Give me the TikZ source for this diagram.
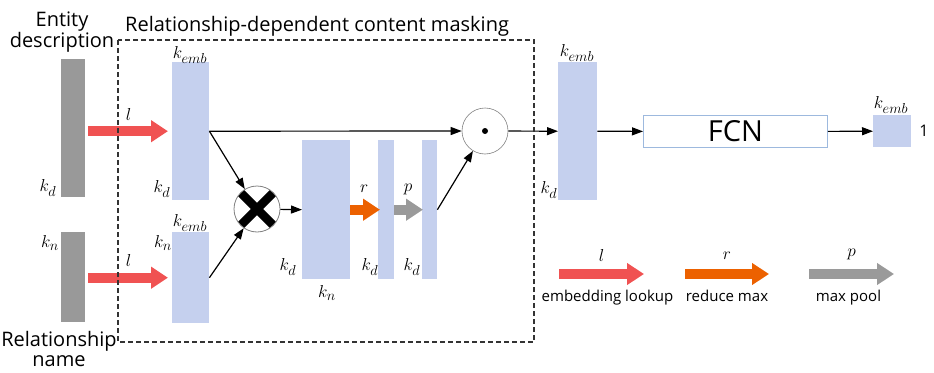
\documentclass[tikz,border=0pt]{standalone}
\usepackage{fontspec}
\setmainfont{Open Sans}
\usetikzlibrary{arrows.meta,positioning,calc}
\definecolor{barblue}{HTML}{C5D0EE}
\definecolor{bargray}{HTML}{999999}
\definecolor{lookred}{HTML}{F05252}
\definecolor{maxorange}{HTML}{EC6100}
\definecolor{poolgray}{HTML}{9A9A9A}
\definecolor{fcnline}{HTML}{9DB9DE}
\definecolor{boxline}{HTML}{333333}

\begin{document}
\begin{tikzpicture}[
x=1pt, y=-1pt,
bar/.style={
  rectangle,
  inner sep=0pt,
  anchor=north west,
  fill=barblue
  },
inbar/.style={
  bar,
  fill=bargray
  },
lab/.style={
  inner sep=1pt,
  font=\fontsize{19}{19}\selectfont
  },
captext/.style={
  inner sep=0pt,
  align=center,
  font=\fontsize{20}{20.5}\selectfont
  },
leg/.style={
  inner sep=0pt,
  font=\fontsize{15}{15}\selectfont
  },
fat/.style={
  line width=10pt,
  -{Triangle[length=17pt,width=21pt]}
  },
conn/.style={
  line width=1.2pt,
  ->
  },
op/.style={
  circle,
  draw=gray,
  line width=0.8pt,
  minimum size=46pt,
  inner sep=0pt
  },
>={Triangle[length=11pt,width=8pt]}
]
\useasboundingbox (0,0) rectangle (934,372);

\node[inbar, minimum width=24pt, minimum height=138pt] (ent) at (61,59) {};
\node[inbar, minimum width=24pt, minimum height=90pt] (rel) at (61,232) {};
\node[bar, minimum width=37pt, minimum height=138pt] (eemb) at (172,62) {};
\node[bar, minimum width=37pt, minimum height=91pt] (remb) at (172,232) {};
\node[bar, minimum width=48pt, minimum height=139pt] (mat) at (302,140) {};
\node[bar, minimum width=16pt, minimum height=139pt] (rmax) at (378,140) {};
\node[bar, minimum width=15pt, minimum height=139pt] (pool) at (422,140) {};
\node[bar, minimum width=39pt, minimum height=138pt] (out) at (558,62) {};
\node[bar, minimum width=38pt, minimum height=32pt] (score) at (873,115) {};
\node[draw=fcnline, line width=0.8pt, fill=white, inner sep=0pt, minimum width=184pt,
  minimum height=32pt, anchor=north west, font=\fontsize{29}{29}\selectfont] (fcn) at (643,115) {FCN};

\node[op, path picture={
  \draw[black, line width=8.5pt] (path picture bounding box.north west) -- (path picture bounding box.south east);
  \draw[black, line width=8.5pt] (path picture bounding box.south west) -- (path picture bounding box.north east);
  }] (mul) at (257,209) {};
\node[op, line width=0.6pt, path picture={
  \fill[black] (path picture bounding box.center) circle (3pt);
  }] (dot) at (485,131) {};

\node[captext, anchor=north] (entname) at (62,12) {Entity\\description};
\node[captext, anchor=north] (relname) at (59,331) {Relationship\\name};
\node[captext, anchor=base west] (title) at (125,31) {Relationship-dependent content masking};

\node[lab] (kd0) at (48,188) {$k_d$};
\node[lab] (kn0) at (50,243) {$k_n$};
\node[lab] (ke1) at (190,55) {$k_{emb}$};
\node[lab] (kd1) at (162,189) {$k_d$};
\node[lab] (ke2) at (190,223) {$k_{emb}$};
\node[lab] (kn2) at (163,243) {$k_n$};
\node[lab] (kd3) at (288,267) {$k_d$};
\node[lab] (kn3) at (327,293) {$k_n$};
\node[lab] (kd4) at (370,267) {$k_d$};
\node[lab] (kd5) at (412,267) {$k_d$};
\node[lab] (ke6) at (577,53) {$k_{emb}$};
\node[lab] (kd6) at (549,190) {$k_d$};
\node[lab] (ke7) at (891,105) {$k_{emb}$};
\node[leg, font=\fontsize{16}{16}\selectfont] (one) at (924,131) {1};

\draw[fat, lookred, shorten <=3pt, shorten >=4pt] (ent.east |- eemb.west) -- (eemb.west)
  node[midway, lab, above=5pt, text=black] (l1) {$l$};
\draw[fat, lookred, shorten <=3pt, shorten >=4pt] (rel.east |- remb.west) -- (remb.west)
  node[midway, lab, above=5pt, text=black] (l2) {$l$};
\draw[fat, maxorange, shorten >=-2pt] (mat.east) -- (rmax.west)
  node[midway, lab, above=11pt, text=black] (r1) {$r$};
\draw[fat, poolgray, shorten >=-1pt] (rmax.east) -- (pool.west)
  node[midway, lab, above=9pt, text=black] (p1) {$p$};

\draw[conn] (eemb.east) -- (dot);
\draw[conn] (eemb.east) -- (mul);
\draw[conn] (remb.east) -- (mul);
\draw[conn] (mul) -- (mat.west);
\draw[conn] (pool.east) -- (dot);
\draw[conn] (dot) -- (out.west);
\draw[conn] (out.east) -- (fcn.west);
\draw[conn] (fcn.east) -- (score.west);

\draw[boxline, line width=1.3pt, dash pattern=on 5pt off 3pt] (118,40) rectangle (534,342);

\coordinate (lg1) at (559,274);
\coordinate (lg2) at (644,274);
\coordinate (lg3) at (685,274);
\coordinate (lg4) at (769,274);
\coordinate (lg5) at (809,274);
\coordinate (lg6) at (894,274);
\draw[fat, lookred] (lg1) -- (lg2)
  node[midway, lab, above=7pt, text=black] (lgl) {$l$}
  node[midway, leg, below=11pt, text=black, xshift=6pt] (lglt) {embedding lookup};
\draw[fat, maxorange] (lg3) -- (lg4)
  node[midway, lab, above=9pt, text=black] (lgr) {$r$}
  node[midway, leg, below=11pt, text=black] (lgrt) {reduce max};
\draw[fat, poolgray] (lg5) -- (lg6)
  node[midway, lab, above=8pt, text=black] (lgp) {$p$}
  node[midway, leg, below=11pt, text=black, xshift=-3pt] (lgpt) {max pool};
\end{tikzpicture}
\end{document}
